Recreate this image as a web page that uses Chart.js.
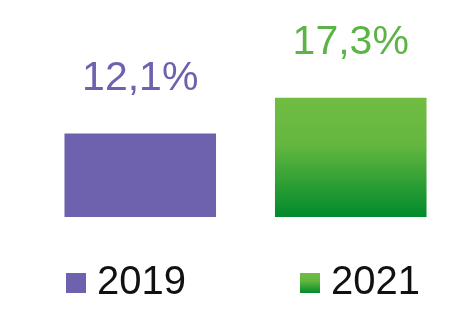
<!DOCTYPE html>
<html>
<head>
<meta charset="utf-8">
<title>2019 vs 2021</title>
<script src="https://cdn.jsdelivr.net/npm/chart.js@4/dist/chart.umd.min.js"></script>
<style>
  html, body { margin: 0; padding: 0; background: #fff; }
  #wrap { width: 462px; height: 332px; }
</style>
</head>
<body>
<div id="wrap"><canvas id="chart" width="462" height="332"></canvas></div>
<script>
// Data
const years = ['2019', '2021'];
const shares = [12.1, 17.3];
const valueLabels = ['12,1%', '17,3%'];

// Colours
const PURPLE = '#6e62ae';
const GREEN_TOP = '#72bd43';
const GREEN_BOTTOM = '#008a2c';
const GREEN_TEXT = '#5cb446';
const FONT = "'Liberation Sans', Arial, sans-serif";

function greenGradient(ctx, top, bottom) {
    const g = ctx.createLinearGradient(0, top, 0, bottom);
    g.addColorStop(0, GREEN_TOP);
    g.addColorStop(0.4, '#63b63f');
    g.addColorStop(1, GREEN_BOTTOM);
    return g;
}

function barColor(context) {
    if (context.dataIndex === 0) return PURPLE;
    const chart = context.chart;
    const area = chart.chartArea;
    if (!area) return GREEN_TOP;
    const yScale = chart.scales.y;
    const top = yScale.getPixelForValue(shares[1]);
    const bottom = yScale.getPixelForValue(0);
    return greenGradient(chart.ctx, top, bottom);
}

// Percent labels above each bar
const valueLabelPlugin = {
    id: 'valueLabels',
    afterDatasetsDraw(chart) {
        const ctx = chart.ctx;
        const meta = chart.getDatasetMeta(0);
        ctx.save();
        ctx.font = '41px ' + FONT;
        ctx.textAlign = 'center';
        ctx.textBaseline = 'alphabetic';
        meta.data.forEach((bar, i) => {
            ctx.fillStyle = i === 0 ? PURPLE : GREEN_TEXT;
            ctx.fillText(valueLabels[i], bar.x, bar.y - 44);
        });
        ctx.restore();
    }
};

// Square-and-year legend under the bars
const legendPlugin = {
    id: 'yearLegend',
    afterDraw(chart) {
        const ctx = chart.ctx;
        const boxLeft = [66, 300];
        const boxTop = 273;
        const size = 20;
        ctx.save();
        ctx.font = '40px ' + FONT;
        ctx.textBaseline = 'alphabetic';
        ctx.textAlign = 'left';
        years.forEach((year, i) => {
            ctx.fillStyle = i === 0 ? PURPLE : greenGradient(ctx, boxTop, boxTop + size);
            ctx.fillRect(boxLeft[i], boxTop, size, size);
            ctx.fillStyle = '#111';
            ctx.fillText(year, boxLeft[i] + size + 11, 294);
        });
        ctx.restore();
    }
};

new Chart(document.getElementById('chart'), {
    type: 'bar',
    data: {
        labels: years,
        datasets: [{
            data: shares,
            backgroundColor: barColor,
            borderWidth: 0,
            categoryPercentage: 1,
            barPercentage: 0.72
        }]
    },
    options: {
        responsive: false,
        animation: false,
        layout: { padding: { left: 35, right: 6, top: 10, bottom: 115 } },
        plugins: {
            legend: { display: false },
            tooltip: { enabled: false }
        },
        scales: {
            x: { display: false },
            y: { display: false, min: 0, max: 30 }
        }
    },
    plugins: [valueLabelPlugin, legendPlugin]
});
</script>
</body>
</html>
